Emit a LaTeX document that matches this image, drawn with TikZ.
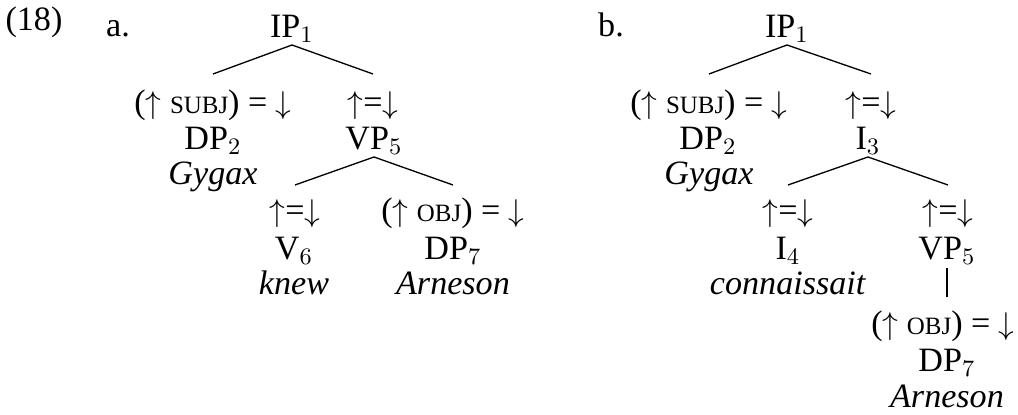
\documentclass[tikz,border=0pt]{standalone}
\usepackage{fontspec}
\setmainfont{Liberation Serif}
\usetikzlibrary{calc}
\newcommand{\fsc}[1]{{\fontsize{9.5}{10}\selectfont #1}}
\newcommand{\upar}{\ensuremath{\uparrow}}
\newcommand{\dnar}{\ensuremath{\downarrow}}
\begin{document}
\begin{tikzpicture}[x=0.381pt, y=-0.381pt,
    font=\fontsize{13}{15}\selectfont,
    lbl/.style={anchor=base, inner sep=0pt},
    br/.style={line width=0.5pt}]
  \useasboundingbox (0,0) rectangle (1018,415);
  \node[lbl] (ex) at (34,31) {(18)};
  % tree a
  \node[lbl] (la) at (118,37) {a.};
  \node[lbl] (ipA) at (292,38) {IP$_1$};
  \node[lbl] (subjA) at (213,114) {(\upar{} \fsc{SUBJ}) = \dnar};
  \node[lbl] (hdA) at (373,114) {\upar=\dnar};
  \node[lbl] (dpA) at (213,150) {DP$_2$};
  \node[lbl] (vpA) at (374,150) {VP$_5$};
  \node[lbl] (gyA) at (213,185) {\textit{Gygax}};
  \node[lbl] (hdVA) at (295,222) {\upar=\dnar};
  \node[lbl] (objA) at (453,222) {(\upar{} \fsc{OBJ}) = \dnar};
  \node[lbl] (vA) at (294,260) {V$_6$};
  \node[lbl] (dpsA) at (453,260) {DP$_7$};
  \node[lbl] (knA) at (294,295) {\textit{knew}};
  \node[lbl] (arA) at (453,295) {\textit{Arneson}};
  \draw[br] ($(ipA.base)+(0,7)$) -- ($(subjA.base)+(0,-40)$);
  \draw[br] ($(ipA.base)+(0,7)$) -- ($(hdA.base)+(0,-40)$);
  \draw[br] ($(vpA.base)+(0,7)$) -- ($(hdVA.base)+(0,-37)$);
  \draw[br] ($(vpA.base)+(0,7)$) -- ($(objA.base)+(0,-37)$);
  % tree b
  \node[lbl] (lb) at (611,37) {b.};
  \node[lbl] (ipB) at (787,38) {IP$_1$};
  \node[lbl] (subjB) at (709,114) {(\upar{} \fsc{SUBJ}) = \dnar};
  \node[lbl] (hdB) at (871,114) {\upar=\dnar};
  \node[lbl] (dpB) at (708,150) {DP$_2$};
  \node[lbl] (iB) at (868,150) {I$_3$};
  \node[lbl] (gyB) at (709,185) {\textit{Gygax}};
  \node[lbl] (hdIB) at (788,222) {\upar=\dnar};
  \node[lbl] (hdVB) at (948,222) {\upar=\dnar};
  \node[lbl] (ifB) at (788,260) {I$_4$};
  \node[lbl] (vpB) at (947,260) {VP$_5$};
  \node[lbl] (coB) at (788,295) {\textit{connaissait}};
  \node[lbl] (objB) at (943,335) {(\upar{} \fsc{OBJ}) = \dnar};
  \node[lbl] (dpsB) at (947,372) {DP$_7$};
  \node[lbl] (arB) at (947,408) {\textit{Arneson}};
  \draw[br] ($(ipB.base)+(0,7)$) -- ($(subjB.base)+(0,-40)$);
  \draw[br] ($(ipB.base)+(0,7)$) -- ($(hdB.base)+(0,-40)$);
  \draw[br] ($(iB.base)+(0,7)$) -- ($(hdIB.base)+(0,-37)$);
  \draw[br] ($(iB.base)+(0,7)$) -- ($(hdVB.base)+(0,-37)$);
  \draw[br] ($(vpB.base)+(0,8)$) -- ($(vpB.base |- objB.base)+(0,-38)$);
\end{tikzpicture}
\end{document}
